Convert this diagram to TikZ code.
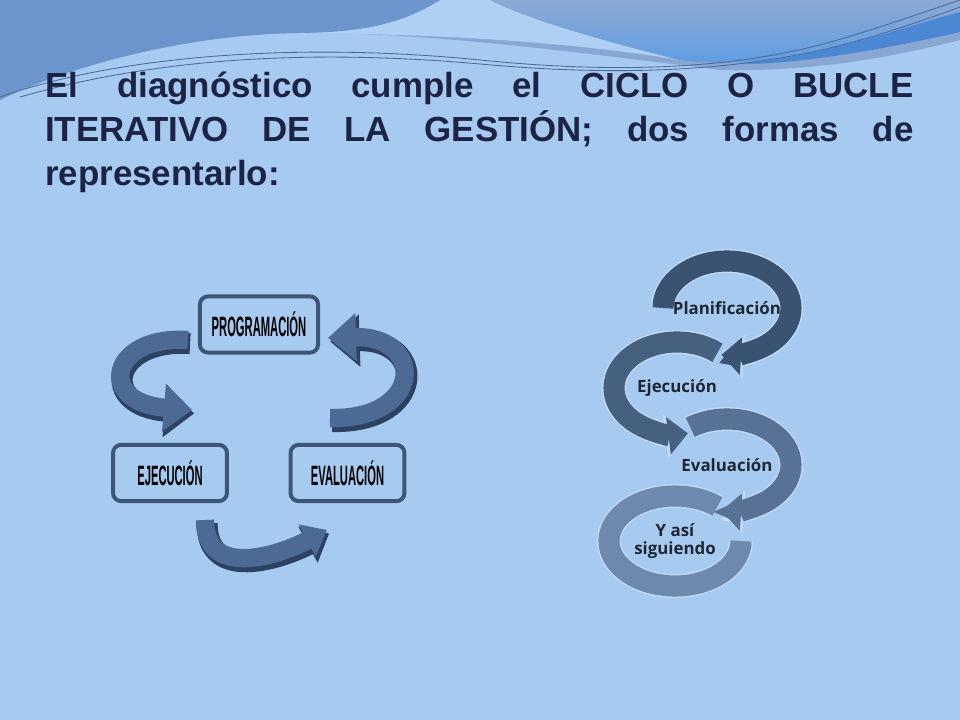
\documentclass[tikz,border=0pt]{standalone}
\usepackage{fontspec}
\usepackage{tikz}
\usepackage{xcolor}
\setmainfont{Liberation Sans}
\newfontfamily\boxfont[FakeStretch=0.4]{Liberation Sans}
\newfontfamily\ringfont{Open Sans}
\usetikzlibrary{arrows.meta,positioning}

\definecolor{bgblue}{HTML}{A7CAF1}
\definecolor{darkband}{HTML}{6B95CC}
\definecolor{greyband}{HTML}{88A7D2}
\definecolor{ribbon}{HTML}{AFD0F4}
\definecolor{bluetop}{HTML}{8CA9D3}
\definecolor{bluebottom}{HTML}{5B9CE4}
\definecolor{blueband}{HTML}{4C87D3}
\definecolor{thinline}{HTML}{4C6A98}
\definecolor{titleblue}{HTML}{1C2345}
\definecolor{boxline}{HTML}{3D5677}
\definecolor{arrowblue}{HTML}{4C6A93}
\definecolor{arrowdark}{HTML}{2D4263}
\definecolor{ringA}{HTML}{3B5373}
\definecolor{ringB}{HTML}{46607F}
\definecolor{ringC}{HTML}{587295}
\definecolor{ringD}{HTML}{6E89AE}
\definecolor{ringglow}{HTML}{C3DAF4}
\definecolor{ringtext}{HTML}{1F2733}

\begin{document}
\begin{tikzpicture}[x=0.025cm,y=0.025cm,
  stage/.style={draw=boxline,line width=2.8pt,rounded corners=5.7pt,fill=bgblue,
    minimum width=81pt,minimum height=40pt,inner sep=0pt,
    font=\boxfont\bfseries\fontsize{19.9}{20}\selectfont},
  twist/.style={line width=13pt,draw=arrowblue,-{Triangle[length=20pt,width=33pt]}},
  twistshade/.style={line width=15pt,draw=arrowdark,-{Triangle[length=21pt,width=36pt]},
    transform canvas={shift={(1.5pt,-2.5pt)}}},
  loopglow/.style={line width=17pt,draw=ringglow},
  phase/.style={font=\ringfont\bfseries\fontsize{12}{13}\selectfont,text=ringtext,align=center}]
\useasboundingbox (0,0) rectangle (960,-720);
\fill[bgblue] (0,0) rectangle (960,-720);
% top swoosh
\fill[greyband] (0,0) -- (960,0) -- (960,-40) .. controls (900,-55) and (820,-72) .. (720,-70)
  .. controls (560,-50) and (420,-32) .. (300,-33) .. controls (180,-34) and (60,-70) .. (0,-100) -- cycle;
\fill[ribbon] (440,0) .. controls (400,-25) and (360,-32) .. (300,-33)
  .. controls (420,-34) and (560,-40) .. (680,-60) .. controls (600,-40) and (530,-20) .. (490,0) -- cycle;
\fill[darkband] (0,0) -- (440,0) .. controls (400,-25) and (360,-32) .. (300,-33)
  .. controls (180,-34) and (60,-70) .. (0,-100) -- cycle;
\shade[top color=bluetop,bottom color=bluebottom] (490,0) .. controls (530,-20) and (600,-40) .. (680,-60)
  .. controls (760,-70) and (880,-50) .. (960,-32) -- (960,0) -- cycle;
\fill[blueband] (740,-64) .. controls (830,-55) and (900,-28) .. (960,-12) -- (960,-32)
  .. controls (880,-50) and (800,-64) .. (740,-64) -- cycle;
\draw[thinline,line width=0.6pt] (0,-97) .. controls (120,-55) and (300,-42) .. (480,-60)
  .. controls (600,-72) and (720,-72) .. (827,-43) .. controls (880,-28) and (930,-10) .. (960,0);
\draw[thinline,line width=0.6pt] (20,-97) .. controls (150,-60) and (300,-48) .. (480,-64)
  .. controls (600,-75) and (720,-74) .. (830,-48) .. controls (880,-36) and (930,-18) .. (960,-7);
% title
\node (title) at (45,-72) [anchor=north west,inner sep=0pt,text width=21.7cm,align=justify,
  text=titleblue,font=\bfseries\fontsize{24.8}{31.3}\selectfont]
  {\hyphenpenalty=10000 El diagnóstico cumple el CICLO O BUCLE\linebreak
   ITERATIVO DE LA GESTIÓN; dos formas de\linebreak representarlo:};
% left cycle
\node (prog) at (259,-324.5) [stage,minimum width=84pt] {PROGRAMACIÓN};
\node (ejec) at (170,-473) [stage] {EJECUCIÓN};
\node (eval) at (347.5,-473) [stage] {EVALUACIÓN};
\coordinate (l1s) at (188,-340);
\coordinate (l1e) at (192,-410);
\coordinate (r1s) at (330,-418);
\coordinate (r1e) at (328,-338);
\coordinate (b1s) at (205,-520);
\coordinate (b1e) at (327,-530);
\draw[twistshade] (l1s) .. controls (110,-335) and (95,-402) .. (l1e);
\draw[twist] (l1s) .. controls (110,-335) and (95,-402) .. (l1e);
\draw[twistshade] (r1s) .. controls (425,-420) and (425,-335) .. (r1e);
\draw[twist] (r1s) .. controls (425,-420) and (425,-335) .. (r1e);
\draw[twistshade,-{Triangle[length=17pt,width=28pt]}] (b1s) .. controls (205,-580) and (280,-555) .. (b1e);
\draw[twist,-{Triangle[length=16pt,width=25pt]}] (b1s) .. controls (205,-580) and (280,-555) .. (b1e);
% right cycle
\coordinate (c1) at (727,-308);
\coordinate (c2) at (677,-388);
\coordinate (c3) at (727,-465);
\coordinate (c4) at (675,-541);
\draw[loopglow] (c4) ++(50:66 and 45) arc[start angle=50,end angle=360,x radius=66,y radius=45];
\draw[line width=15pt,draw=ringD] (c4) ++(50:66 and 45) arc[start angle=50,end angle=360,x radius=66,y radius=45];
\draw[loopglow,-{Triangle[length=16pt,width=30pt]}] (c3) ++(125:64 and 46) arc[start angle=125,end angle=-95,x radius=64,y radius=46];
\draw[line width=15pt,draw=ringC,-{Triangle[length=14pt,width=26pt]}] (c3) ++(125:64 and 46) arc[start angle=125,end angle=-95,x radius=64,y radius=46];
\draw[loopglow,-{Triangle[length=16pt,width=30pt]}] (c2) ++(50:63 and 46) arc[start angle=50,end angle=280,x radius=63,y radius=46];
\draw[line width=15pt,draw=ringB,-{Triangle[length=14pt,width=26pt]}] (c2) ++(50:63 and 46) arc[start angle=50,end angle=280,x radius=63,y radius=46];
\draw[loopglow,-{Triangle[length=16pt,width=30pt]}] (c1) ++(180:64 and 47) arc[start angle=180,end angle=-95,x radius=64,y radius=47];
\draw[line width=15pt,draw=ringA,-{Triangle[length=14pt,width=26pt]}] (c1) ++(180:64 and 47) arc[start angle=180,end angle=-95,x radius=64,y radius=47];
\node (plan) at (c1) [phase] {Planificación};
\node (ejc) at (c2) [phase] {Ejecución};
\node (evl) at (c3) [phase] {Evaluación};
\node (sig) at (c4) [phase] {Y así\\siguiendo};
\end{tikzpicture}
\end{document}
